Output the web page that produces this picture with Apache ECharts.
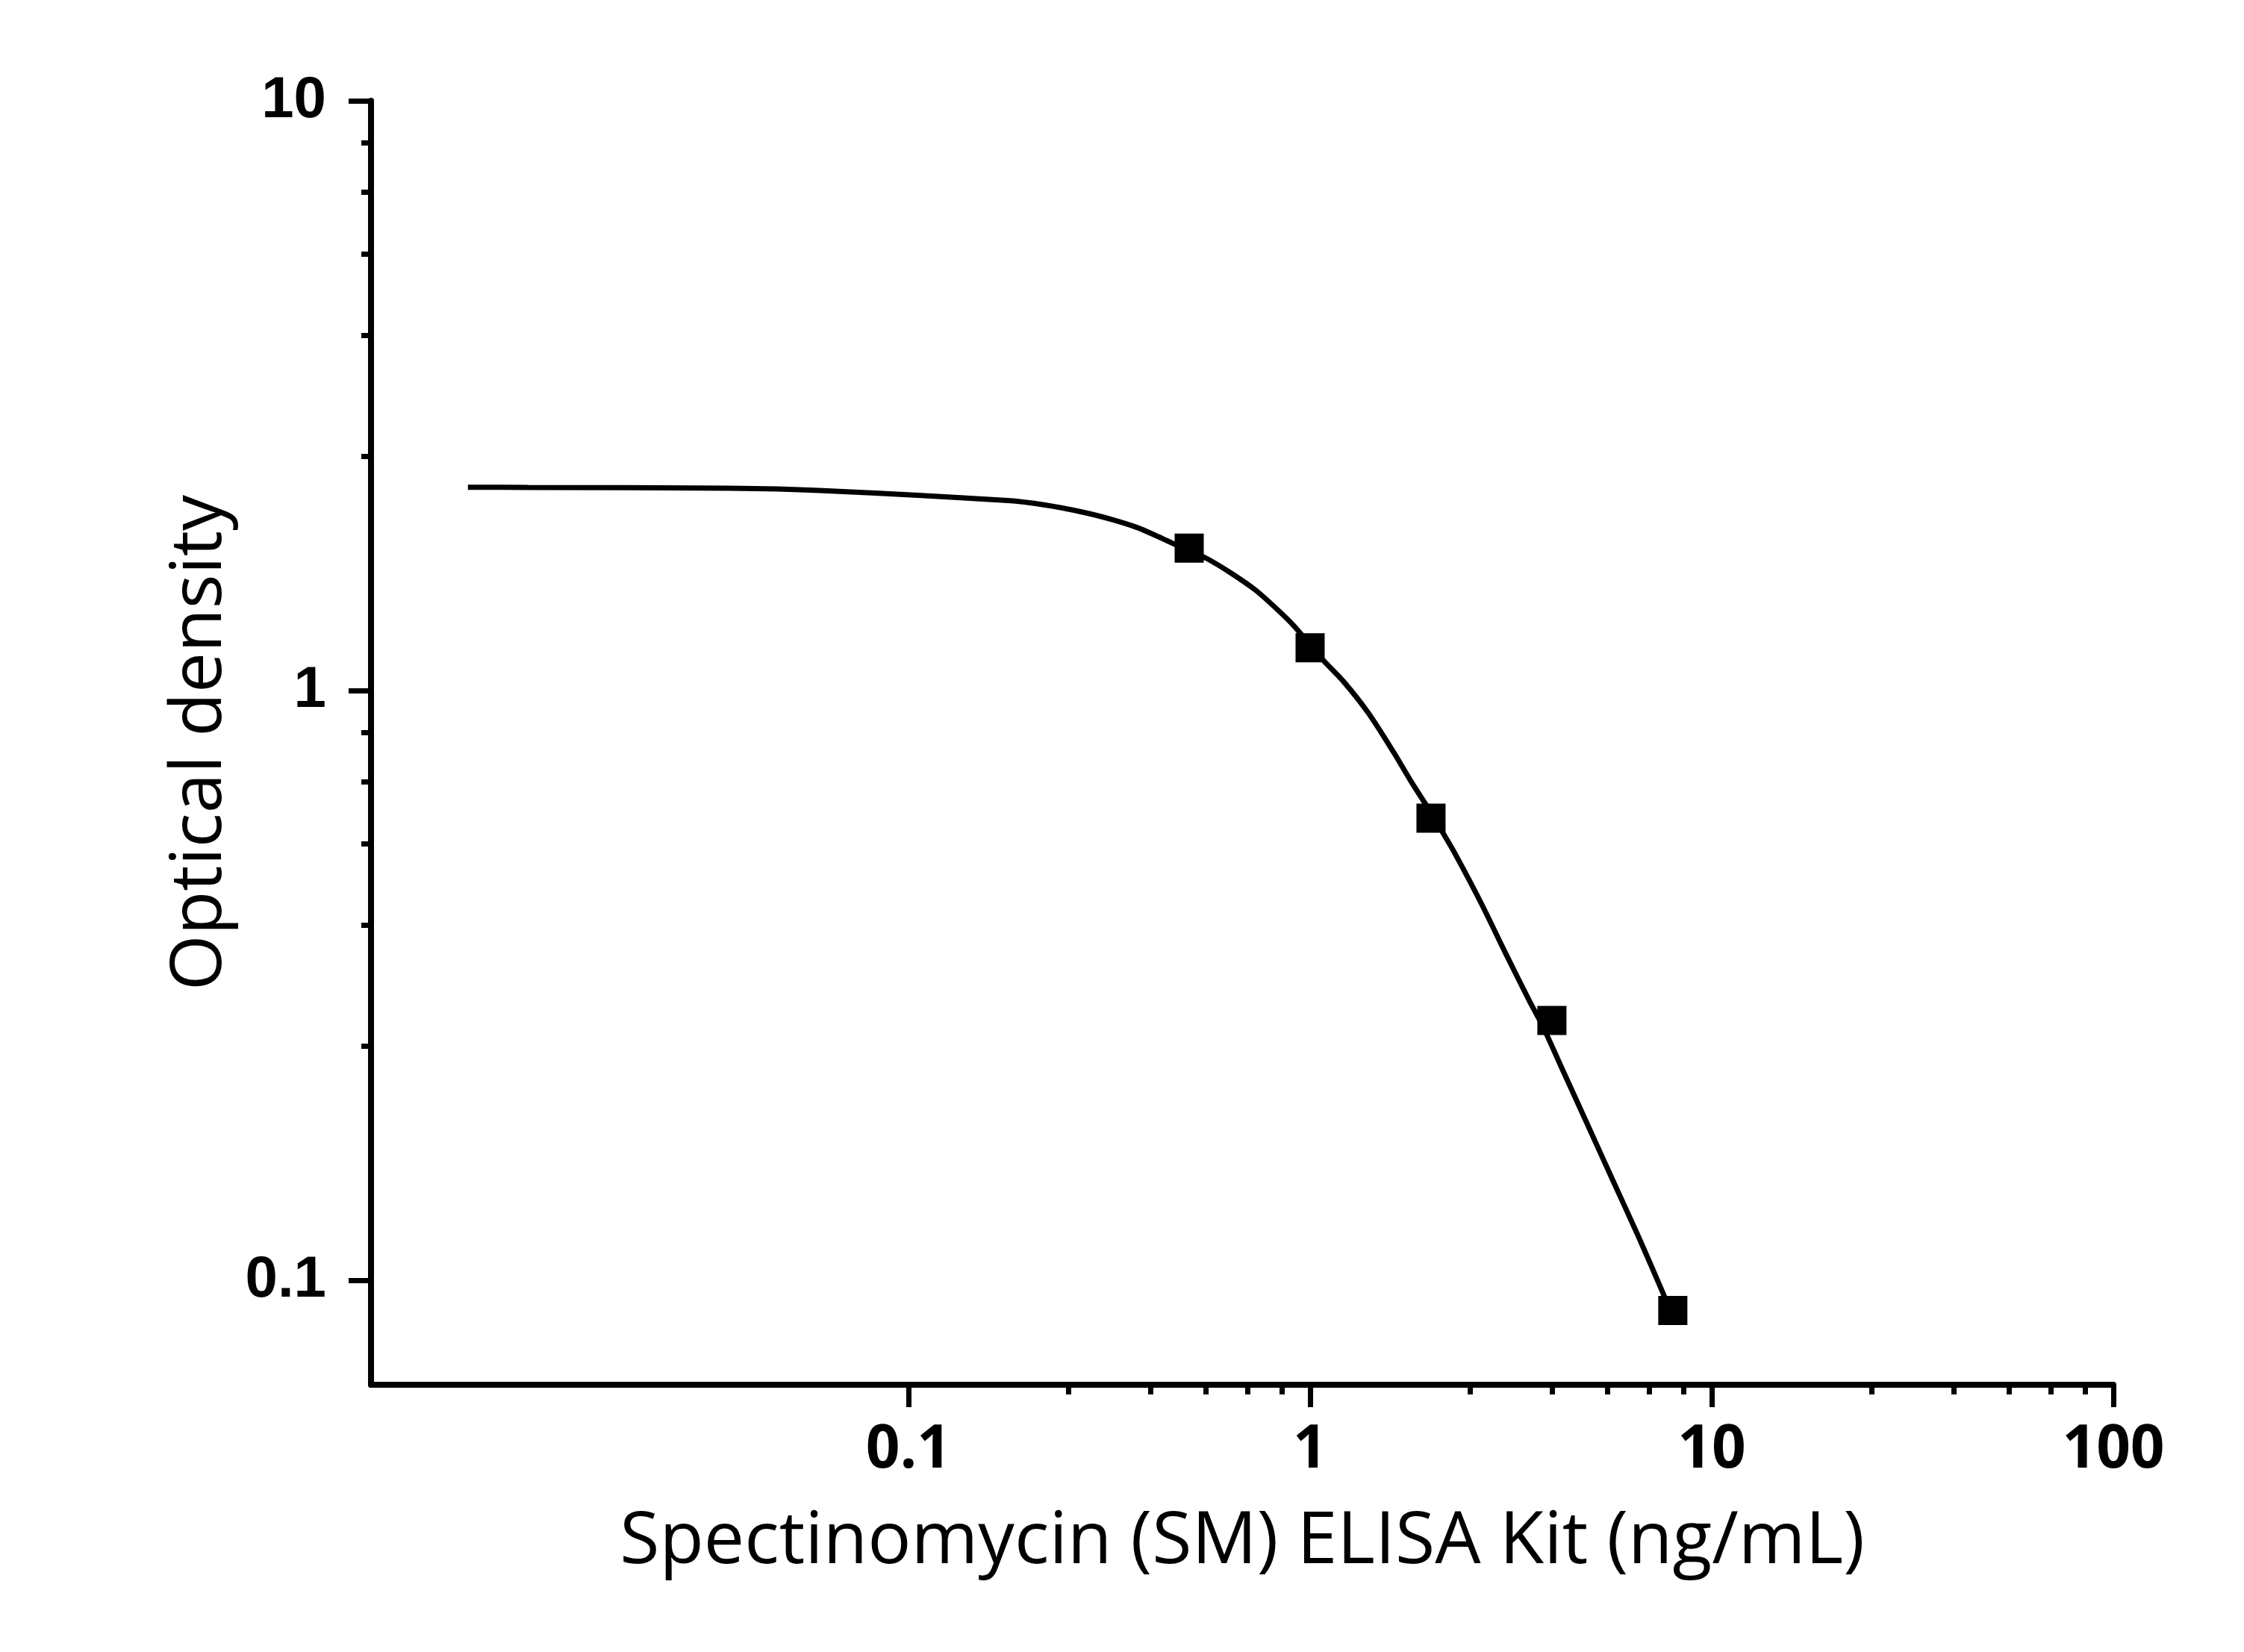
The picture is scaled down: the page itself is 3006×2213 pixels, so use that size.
<!DOCTYPE html>
<html>
<head>
<meta charset="utf-8">
<title>Spectinomycin (SM) ELISA Kit</title>
<script src="https://cdn.jsdelivr.net/npm/echarts@6/dist/echarts.min.js"></script>
<style>
  html, body { margin: 0; padding: 0; background: #ffffff; }
  #chart { width: 3006px; height: 2213px; }
</style>
</head>
<body>
<div id="chart"></div>
<script>
// standard points: concentration (ng/mL) and optical density
var pointX = [0.5, 1, 2, 4, 8];
var pointY = [1.745, 1.182, 0.608, 0.276, 0.089];

// fitted curve
var curveX = [0.0080, 0.01127, 0.0355, 0.0598, 0.1767, 0.2188, 0.2711, 0.3217, 0.3709,
              0.4159, 0.4529, 0.5006, 0.5534, 0.6379, 0.7357, 0.8489, 0.9113, 1.0, 1.080,
              1.212, 1.396, 1.615, 1.782, 2.0, 2.142, 2.304, 2.657, 3.065, 3.534,
              3.781, 4.254, 4.909, 5.659, 6.528, 7.530, 8.0];
var curveY = [2.213, 2.211, 2.204, 2.185, 2.100, 2.064, 2.008, 1.950, 1.891,
              1.828, 1.780, 1.725, 1.675, 1.580, 1.476, 1.352, 1.288, 1.196, 1.125,
              1.036, 0.917, 0.786, 0.7026, 0.621, 0.574, 0.527, 0.4384, 0.3592, 0.2959,
              0.2714, 0.2276, 0.1837, 0.1484, 0.1199, 0.0959, 0.0866];

// tick values
var xMajor = [0.1, 1, 10, 100];
var xMinor = [0.25, 0.4, 0.55, 0.7, 0.85, 2.5, 4, 5.5, 7, 8.5, 25, 40, 55, 70, 85];
var yMajor = [0.1, 1, 10];
var yMinor = [0.25, 0.4, 0.55, 0.7, 0.85, 2.5, 4, 5.5, 7, 8.5];

var xMin = 0.00459, xMax = 100;
var yMin = 0.0666, yMax = 10;

function pairs(xs, ys) {
    var out = [];
    for (var i = 0; i < xs.length; i++) out.push([xs[i], ys[i]]);
    return out;
}

var myChart = echarts.init(document.getElementById('chart'));

var axisLineStyle = { color: '#000', width: 8 };

option = {
    backgroundColor: '#ffffff',
    animation: false,
    grid: {
        left: 497,
        right: 175,
        top: 135,
        bottom: 358
    },
    xAxis: [
        {
            type: 'log',
            min: xMin,
            max: xMax,
            position: 'bottom',
            name: 'Spectinomycin (SM) ELISA Kit (ng/mL)',
            nameLocation: 'middle',
            nameGap: 163,
            nameTextStyle: {
                fontFamily: 'Open Sans',
                fontSize: 97,
                color: '#000'
            },
            axisLine: { show: true, lineStyle: axisLineStyle },
            axisTick: {
                show: true,
                inside: false,
                length: 30,
                customValues: xMajor,
                lineStyle: { color: '#000', width: 7 }
            },
            axisLabel: {
                show: true,
                customValues: xMajor,
                margin: 48,
                fontFamily: 'Open Sans',
                fontWeight: 'bold',
                fontSize: 80,
                color: '#000',
                formatter: function (v) { return String(v); }
            },
            splitLine: { show: false }
        },
        {
            // minor ticks only
            type: 'log',
            min: xMin,
            max: xMax,
            position: 'bottom',
            axisLine: { show: false },
            axisTick: {
                show: true,
                inside: false,
                length: 13,
                customValues: xMinor,
                lineStyle: { color: '#000', width: 7 }
            },
            axisLabel: { show: false },
            splitLine: { show: false }
        }
    ],
    yAxis: [
        {
            type: 'log',
            min: yMin,
            max: yMax,
            position: 'left',
            name: 'Optical density',
            nameLocation: 'middle',
            nameGap: 180,
            nameTextStyle: {
                fontFamily: 'Open Sans',
                fontSize: 96,
                color: '#000'
            },
            axisLine: { show: true, lineStyle: axisLineStyle },
            axisTick: {
                show: true,
                inside: false,
                length: 30,
                customValues: yMajor,
                lineStyle: { color: '#000', width: 7 }
            },
            axisLabel: {
                show: true,
                customValues: yMajor,
                margin: 60,
                fontFamily: 'Liberation Sans',
                fontWeight: 'bold',
                fontSize: 78,
                color: '#000',
                padding: [0, 0, 16, 0],
                formatter: function (v) { return String(v); }
            },
            splitLine: { show: false }
        },
        {
            // minor ticks only
            type: 'log',
            min: yMin,
            max: yMax,
            position: 'left',
            axisLine: { show: false },
            axisTick: {
                show: true,
                inside: false,
                length: 13,
                customValues: yMinor,
                lineStyle: { color: '#000', width: 7 }
            },
            axisLabel: { show: false },
            splitLine: { show: false }
        }
    ],
    series: [
        {
            name: 'Fit',
            type: 'line',
            xAxisIndex: 0,
            yAxisIndex: 0,
            data: pairs(curveX, curveY),
            smooth: 0.3,
            showSymbol: false,
            lineStyle: { color: '#000', width: 7 },
            z: 2
        },
        {
            name: 'Standard',
            type: 'scatter',
            xAxisIndex: 0,
            yAxisIndex: 0,
            data: pairs(pointX, pointY),
            symbol: 'rect',
            symbolSize: 39,
            itemStyle: { color: '#000', opacity: 1 },
            z: 3
        }
    ]
};

myChart.setOption(option);
</script>
</body>
</html>
